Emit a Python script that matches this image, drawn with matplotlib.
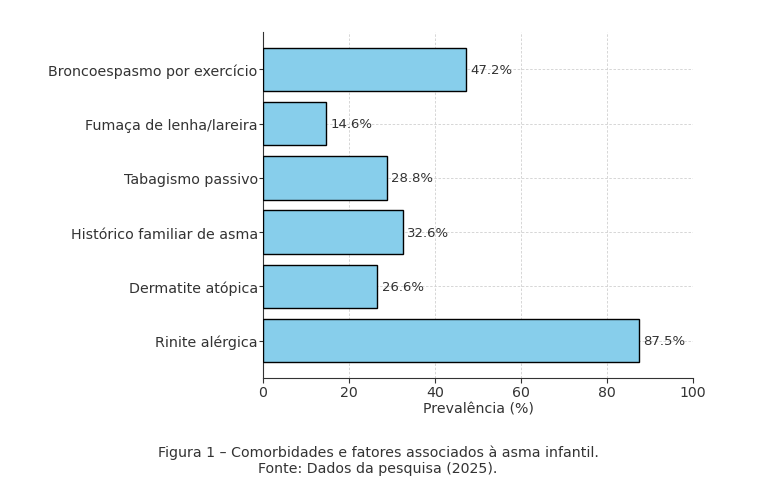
import matplotlib
matplotlib.use("Agg")
import matplotlib.pyplot as plt

categorias = [
    "Rinite alérgica",
    "Dermatite atópica",
    "Histórico familiar de asma",
    "Tabagismo passivo",
    "Fumaça de lenha/lareira",
    "Broncoespasmo por exercício",
]
prevalencia = [87.5, 26.6, 32.6, 28.8, 14.6, 47.2]

texto = "#333333"
plt.rcParams["text.color"] = texto
plt.rcParams["axes.labelcolor"] = texto
plt.rcParams["xtick.color"] = texto
plt.rcParams["ytick.color"] = texto

fig = plt.figure(figsize=(7.61, 4.89), dpi=100)
ax = fig.add_axes([263 / 761, 1 - 379 / 489, 430 / 761, 346 / 489])

ax.barh(categorias, prevalencia, color="skyblue", edgecolor="black", height=0.8, zorder=3)
for i, v in enumerate(prevalencia):
    ax.text(v + 1, i, f"{v}%", va="center", ha="left", fontsize=9.5, zorder=4)

ax.set_xlim(0, 100)
ax.set_xlabel("Prevalência (%)", fontsize=10.2, labelpad=2)
ax.tick_params(axis="x", labelsize=10.2, pad=1.5)
ax.tick_params(axis="y", labelsize=10.3, direction="inout", length=6, pad=0.8)
ax.grid(True, linestyle=(0, (3, 2)), color="#d0d0d0", linewidth=0.6, zorder=0)
for s in ["top", "right"]:
    ax.spines[s].set_visible(False)
for s in ["left", "bottom"]:
    ax.spines[s].set_color("#333333")

fig.text(378 / 761, 1 - 461 / 489,
         "Figura 1 – Comorbidades e fatores associados à asma infantil.\nFonte: Dados da pesquisa (2025).",
         ha="center", va="center", multialignment="center", fontsize=10.2)

fig.savefig("out.png", dpi=100)
